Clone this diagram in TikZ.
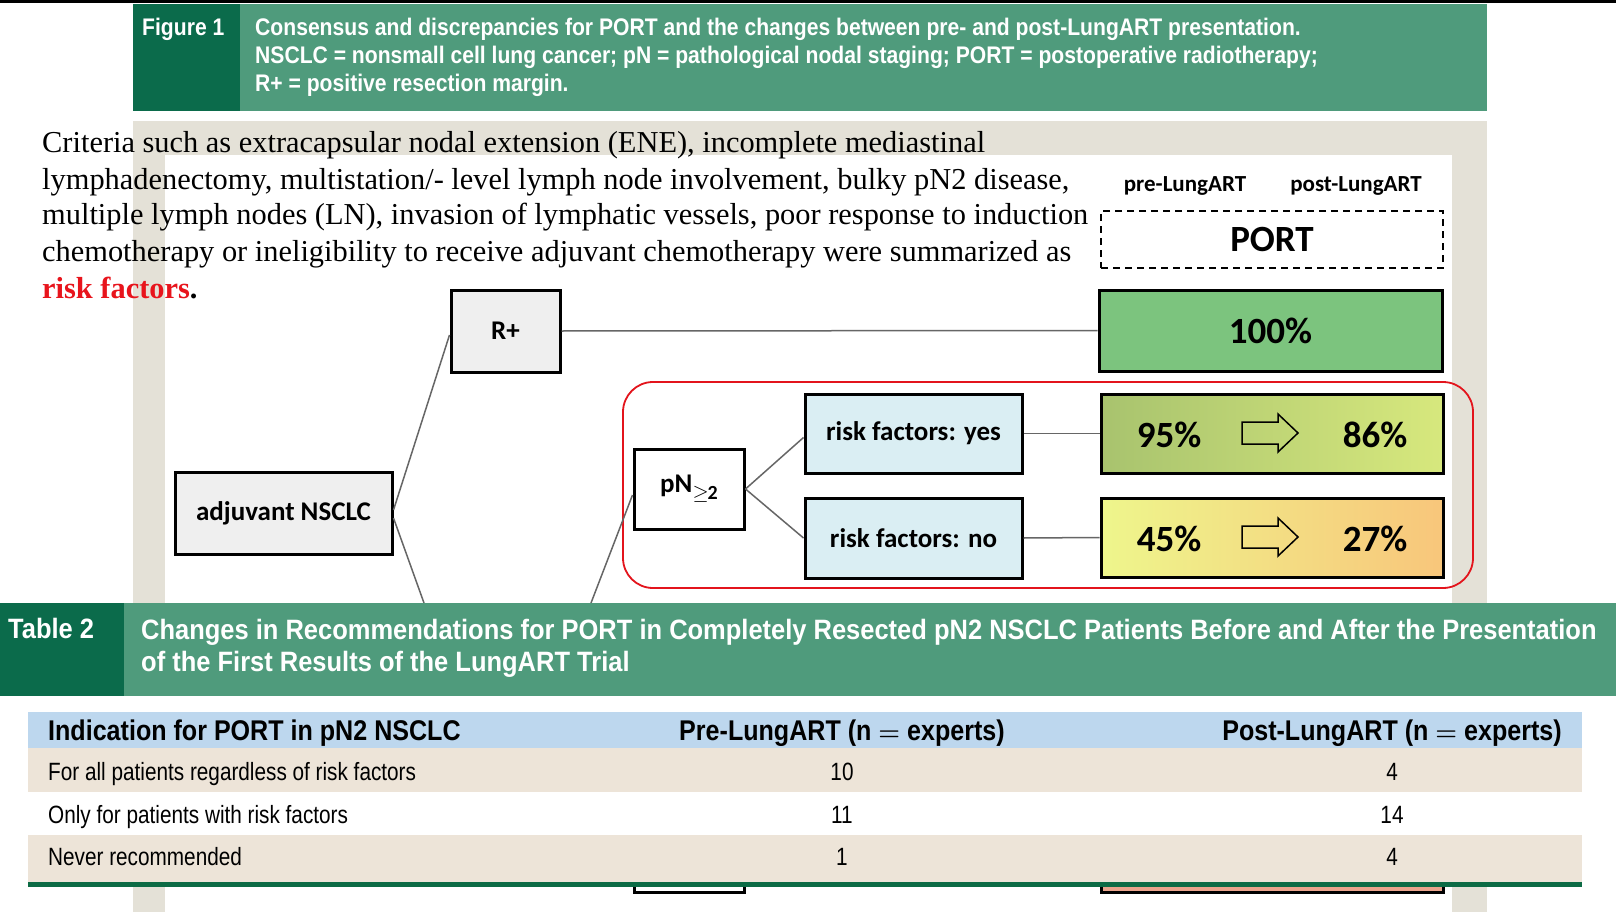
\documentclass[tikz,border=0pt]{standalone}
\usepackage{fontspec}
\setmainfont{Liberation Serif}
\newfontfamily\calib{Carlito}
\newfontfamily\figfont[FakeStretch=0.88]{Liberation Sans}
\newfontfamily\ttlfont[FakeStretch=0.91]{Liberation Sans}
\newfontfamily\tabfont[FakeStretch=0.88]{Liberation Sans}
\newfontfamily\rowfont[FakeStretch=0.83]{Liberation Sans}
\definecolor{dkgreen}{HTML}{0B6B4B}
\definecolor{mdgreen}{HTML}{4F9B7C}
\definecolor{beige}{HTML}{E4E1D7}
\definecolor{boxgray}{HTML}{EFEFEF}
\definecolor{ltblue}{HTML}{DAEEF3}
\definecolor{green100}{HTML}{7CC47E}
\definecolor{redline}{HTML}{E3141C}
\definecolor{conngray}{HTML}{666666}
\definecolor{hdrblue}{HTML}{BDD7EE}
\definecolor{rowbeige}{HTML}{EDE4D8}
\definecolor{salmon}{HTML}{E9A48C}
\definecolor{olive}{HTML}{A8C36E}
\definecolor{lime}{HTML}{D7E87D}
\definecolor{paleyellow}{HTML}{EEF68C}
\definecolor{midyellow}{HTML}{F1EC88}
\definecolor{orangey}{HTML}{F8C67B}
\definecolor{tgreen}{HTML}{0C6B45}
\definecolor{riskred}{HTML}{E8141C}
\newcommand{\wideeq}{ {\boldmath$=$} }
\tikzset{
  box/.style={draw=black, line width=3pt, inner sep=0pt, font=\calib\bfseries\fontsize{27}{30}\selectfont},
  pct/.style={inner sep=0pt, font=\calib\bfseries\fontsize{37}{40}\selectfont},
  conn/.style={draw=conngray, line width=1.5pt},
  para/.style={anchor=base west, inner sep=0pt, font=\fontsize{30.4}{36}\selectfont},
  figtxt/.style={anchor=base west, inner sep=0pt, text=white, font=\figfont\bfseries\fontsize{24}{28}\selectfont},
  tabtitle/.style={anchor=base west, inner sep=0pt, text=white, font=\ttlfont\bfseries\fontsize{28}{32}\selectfont},
  thead/.style={anchor=base, inner sep=0pt, font=\tabfont\bfseries\fontsize{28.5}{30}\selectfont},
  tcell/.style={anchor=base, inner sep=0pt, font=\rowfont\fontsize{25}{28}\selectfont},
  hollow/.style={draw=black, line width=1.5pt, line join=miter},
  toplabel/.style={anchor=base, inner sep=0pt, font=\calib\bfseries\fontsize{23}{26}\selectfont}
}
\begin{document}
\begin{tikzpicture}[x=1pt,y=-1pt]
\useasboundingbox (0,0) rectangle (1616,912);
\fill[white] (0,0) rectangle (1616,912);
\fill[black] (0,0) rectangle (1616,3);
% Figure 1 header
\fill[dkgreen] (133,4) rectangle (240,111);
\fill[mdgreen] (240,4) rectangle (1487,111);
\node[figtxt] (figlab) at (142,36) {Figure 1};
\node[figtxt] (cap1) at (255,36) {Consensus and discrepancies for PORT and the changes between pre- and post-LungART presentation.};
\node[figtxt] (cap2) at (255,64) {NSCLC = nonsmall cell lung cancer; pN = pathological nodal staging; PORT = postoperative radiotherapy;};
\node[figtxt] (cap3) at (255,92) {R+ = positive resection margin.};
% panel
\fill[beige] (133,121) rectangle (1487,912);
\fill[white] (165,155) rectangle (1452,912);
% remains of boxes below the table
\node[draw=black, line width=3pt, fill=white, minimum width=110pt, minimum height=60pt] (lowbox) at (689,862) {};
\node[draw=black, line width=3pt, fill=salmon, minimum width=342pt, minimum height=60pt] (lowpct) at (1272,862) {};
% diagram
\node[toplabel] (pre) at (1185,192) {pre-LungART};
\node[toplabel] (post) at (1356,192) {post-LungART};
\node[draw=black, line width=2pt, dash pattern=on 7pt off 5pt, inner sep=0pt, minimum width=342pt, minimum height=57pt, font=\calib\bfseries\fontsize{37}{40}\selectfont] (port) at (1272,239.5) {PORT};
\node[box, fill=green100, minimum width=343pt, minimum height=81pt, font=\calib\bfseries\fontsize{37}{40}\selectfont] (p100) at (1270.5,330.5) {100\%};
\node[box, fill=boxgray, minimum width=109pt, minimum height=82pt] (rplus) at (505.5,331) {R+};
\node[box, fill=boxgray, minimum width=217pt, minimum height=82pt] (adj) at (283.5,513) {adjuvant NSCLC};
\node[draw=redline, line width=1.8pt, rounded corners=30pt, minimum width=850pt, minimum height=206pt, inner sep=0pt] (grp) at (1048,485) {};
\node[box, fill=white, minimum width=110pt, minimum height=80pt] (pn) at (689,489) {pN\raisebox{-7pt}{\fontsize{20}{20}\selectfont$\geq$\kern-1pt2}};
\node[box, fill=ltblue, minimum width=217pt, minimum height=79pt] (yes) at (913.5,433.5) {risk factors: yes};
\node[box, fill=ltblue, minimum width=217pt, minimum height=80pt] (no) at (913.5,538) {risk factors: no};
\node[box, left color=olive, right color=lime, minimum width=342pt, minimum height=79pt] (p95) at (1272,433.5) {};
\node[box, left color=paleyellow, middle color=midyellow, right color=orangey, minimum width=342pt, minimum height=79pt] (p45) at (1272,537.5) {};
\node[pct] (v95) at (1169,435) {95\%};
\node[pct] (v86) at (1375,435) {86\%};
\node[pct] (v45) at (1169,539) {45\%};
\node[pct] (v27) at (1375,539) {27\%};
\draw[hollow, shift={(1270,433)}] (-28,-11) -- (8,-11) -- (8,-19) -- (28,0) -- (8,19) -- (8,11) -- (-28,11) -- cycle;
\draw[hollow, shift={(1270,537)}] (-28,-11) -- (8,-11) -- (8,-19) -- (28,0) -- (8,19) -- (8,11) -- (-28,11) -- cycle;
% connectors
\coordinate (adjlow) at (424,603);
\coordinate (pnlow) at (591,603);
\draw[conn] (rplus.east) -- (p100.west);
\draw[conn] ([yshift=3pt]adj.east) -- ([yshift=-4pt]rplus.west);
\draw[conn] ([yshift=-5pt]adj.east) -- (adjlow);
\draw[conn] (pnlow) -- ([yshift=-6pt]pn.west);
\draw[conn] (pn.east) -- ([yshift=-4pt]yes.west);
\draw[conn] (pn.east) -- (no.west);
\draw[conn] (yes.east) -- (p95.west);
\draw[conn] (no.east) -- (p45.west);
% paragraph
\node[para] (l1) at (42,153) {Criteria such as extracapsular nodal extension (ENE), incomplete mediastinal};
\node[para] (l2) at (42,189.5) {lymphadenectomy, multistation/- level lymph node involvement, bulky pN2 disease,};
\node[para] (l3) at (42,225) {multiple lymph nodes (LN), invasion of lymphatic vessels, poor response to induction};
\node[para] (l4) at (42,261.5) {chemotherapy or ineligibility to receive adjuvant chemotherapy were summarized as};
\node[para] (l5) at (42,298) {\textbf{\textcolor{riskred}{risk factors}.}};
% Table 2 header
\fill[dkgreen] (0,603) rectangle (124,696);
\fill[mdgreen] (124,603) rectangle (1616,696);
\node[tabtitle] (tlab) at (8,638) {Table 2};
\node[tabtitle] (tt1) at (141,639) {Changes in Recommendations for PORT in Completely Resected pN2 NSCLC Patients Before and After the Presentation};
\node[tabtitle] (tt2) at (141,671) {of the First Results of the LungART Trial};
\fill[white] (0,696) rectangle (1616,712);
% table
\fill[hdrblue] (28,712) rectangle (1582,748);
\fill[rowbeige] (28,748) rectangle (1582,792);
\fill[white] (28,792) rectangle (1582,835);
\fill[rowbeige] (28,835) rectangle (1582,882);
\fill[tgreen] (28,882) rectangle (1582,887);
\node[thead, anchor=base west] (h1) at (48,740) {Indication for PORT in pN2 NSCLC};
\node[thead] (h2) at (842,740) {Pre-LungART (n\wideeq experts)};
\node[thead] (h3) at (1392,740) {Post-LungART (n\wideeq experts)};
\node[tcell, anchor=base west] (r1a) at (48,780) {For all patients regardless of risk factors};
\node[tcell] (r1b) at (842,780) {10};
\node[tcell] (r1c) at (1392,780) {4};
\node[tcell, anchor=base west] (r2a) at (48,823) {Only for patients with risk factors};
\node[tcell] (r2b) at (842,823) {11};
\node[tcell] (r2c) at (1392,823) {14};
\node[tcell, anchor=base west] (r3a) at (48,865) {Never recommended};
\node[tcell] (r3b) at (842,865) {1};
\node[tcell] (r3c) at (1392,865) {4};
\end{tikzpicture}
\end{document}
